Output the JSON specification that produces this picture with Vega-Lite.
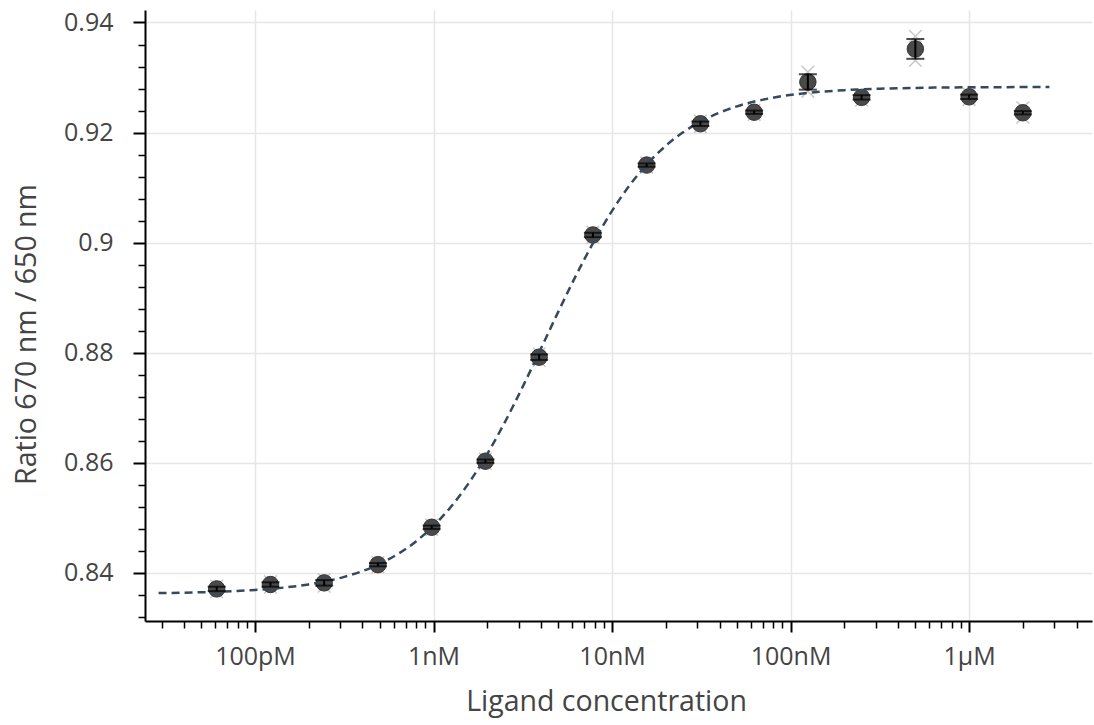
{
  "$schema": "https://vega.github.io/schema/vega-lite/v6.json",
  "width": 947,
  "height": 611,
  "autosize": {"type": "none"},
  "padding": {"left": 145, "top": 10, "right": 2, "bottom": 104},
  "background": "white",
  "config": {
    "view": {"stroke": null},
    "font": "Open Sans",
    "axis": {"labelFont": "Open Sans", "titleFont": "Open Sans", "labelColor": "#444444", "titleColor": "#444444", "titleFontWeight": "normal"}
  },
  "datasets": {
    "points": [
      {"conc": 6.104e-11, "ratio": 0.8371, "lo": 0.8367, "hi": 0.8375},
      {"conc": 1.221e-10, "ratio": 0.8379, "lo": 0.8375, "hi": 0.8383},
      {"conc": 2.441e-10, "ratio": 0.8382, "lo": 0.8377, "hi": 0.8387},
      {"conc": 4.883e-10, "ratio": 0.8415, "lo": 0.8412, "hi": 0.8418},
      {"conc": 9.766e-10, "ratio": 0.8483, "lo": 0.8480, "hi": 0.8486},
      {"conc": 1.953e-9, "ratio": 0.8603, "lo": 0.8600, "hi": 0.8606},
      {"conc": 3.906e-9, "ratio": 0.8792, "lo": 0.8787, "hi": 0.8797},
      {"conc": 7.813e-9, "ratio": 0.9014, "lo": 0.9010, "hi": 0.9018},
      {"conc": 1.5625e-8, "ratio": 0.9141, "lo": 0.9138, "hi": 0.9144},
      {"conc": 3.125e-8, "ratio": 0.9216, "lo": 0.9212, "hi": 0.9220},
      {"conc": 6.25e-8, "ratio": 0.9237, "lo": 0.9234, "hi": 0.9240},
      {"conc": 1.25e-7, "ratio": 0.9292, "lo": 0.9278, "hi": 0.9306},
      {"conc": 2.5e-7, "ratio": 0.9264, "lo": 0.9260, "hi": 0.9268},
      {"conc": 5e-7, "ratio": 0.9352, "lo": 0.9334, "hi": 0.9370},
      {"conc": 1e-6, "ratio": 0.9265, "lo": 0.9261, "hi": 0.9269},
      {"conc": 2e-6, "ratio": 0.9236, "lo": 0.9233, "hi": 0.9239}
    ],
    "reps": [
      {"conc": 6.104e-11, "ratio": 0.8366},
      {"conc": 6.104e-11, "ratio": 0.8376},
      {"conc": 1.221e-10, "ratio": 0.8374},
      {"conc": 1.221e-10, "ratio": 0.8384},
      {"conc": 2.441e-10, "ratio": 0.8376},
      {"conc": 2.441e-10, "ratio": 0.8388},
      {"conc": 4.883e-10, "ratio": 0.8411},
      {"conc": 4.883e-10, "ratio": 0.8419},
      {"conc": 9.766e-10, "ratio": 0.8479},
      {"conc": 9.766e-10, "ratio": 0.8487},
      {"conc": 1.953e-9, "ratio": 0.8599},
      {"conc": 1.953e-9, "ratio": 0.8607},
      {"conc": 3.906e-9, "ratio": 0.8786},
      {"conc": 3.906e-9, "ratio": 0.8798},
      {"conc": 7.813e-9, "ratio": 0.9009},
      {"conc": 7.813e-9, "ratio": 0.9019},
      {"conc": 1.5625e-8, "ratio": 0.9137},
      {"conc": 1.5625e-8, "ratio": 0.9145},
      {"conc": 3.125e-8, "ratio": 0.9211},
      {"conc": 3.125e-8, "ratio": 0.9221},
      {"conc": 6.25e-8, "ratio": 0.9233},
      {"conc": 6.25e-8, "ratio": 0.9241},
      {"conc": 1.25e-7, "ratio": 0.9275},
      {"conc": 1.25e-7, "ratio": 0.9310},
      {"conc": 2.5e-7, "ratio": 0.9259},
      {"conc": 2.5e-7, "ratio": 0.9269},
      {"conc": 5e-7, "ratio": 0.9331},
      {"conc": 5e-7, "ratio": 0.9375},
      {"conc": 1e-6, "ratio": 0.9260},
      {"conc": 1e-6, "ratio": 0.9270},
      {"conc": 2e-6, "ratio": 0.9228},
      {"conc": 2e-6, "ratio": 0.9245}
    ],
    "fit": [
      {"conc": 2.884e-11, "ratio": 0.83634},
      {"conc": 3.162e-11, "ratio": 0.83636},
      {"conc": 5.012e-11, "ratio": 0.83649},
      {"conc": 7.943e-11, "ratio": 0.83673},
      {"conc": 1.259e-10, "ratio": 0.83715},
      {"conc": 1.995e-10, "ratio": 0.83792},
      {"conc": 3.162e-10, "ratio": 0.83929},
      {"conc": 5.012e-10, "ratio": 0.84166},
      {"conc": 7.943e-10, "ratio": 0.84568},
      {"conc": 1e-9, "ratio": 0.84855},
      {"conc": 1.259e-9, "ratio": 0.85211},
      {"conc": 1.585e-9, "ratio": 0.85645},
      {"conc": 1.995e-9, "ratio": 0.86156},
      {"conc": 2.512e-9, "ratio": 0.86741},
      {"conc": 3.162e-9, "ratio": 0.87385},
      {"conc": 3.981e-9, "ratio": 0.88065},
      {"conc": 5.012e-9, "ratio": 0.88752},
      {"conc": 6.31e-9, "ratio": 0.89416},
      {"conc": 7.943e-9, "ratio": 0.9003},
      {"conc": 1e-8, "ratio": 0.90578},
      {"conc": 1.259e-8, "ratio": 0.91048},
      {"conc": 1.585e-8, "ratio": 0.91439},
      {"conc": 1.995e-8, "ratio": 0.91757},
      {"conc": 2.512e-8, "ratio": 0.92009},
      {"conc": 3.162e-8, "ratio": 0.92207},
      {"conc": 5.012e-8, "ratio": 0.92477},
      {"conc": 7.943e-8, "ratio": 0.92633},
      {"conc": 1.259e-7, "ratio": 0.92721},
      {"conc": 1.995e-7, "ratio": 0.9277},
      {"conc": 3.162e-7, "ratio": 0.92797},
      {"conc": 5.012e-7, "ratio": 0.92812},
      {"conc": 7.943e-7, "ratio": 0.9282},
      {"conc": 1.259e-6, "ratio": 0.92824},
      {"conc": 1.995e-6, "ratio": 0.92827},
      {"conc": 2.818e-6, "ratio": 0.92828}
    ]
  },
  "layer": [
    {
      "data": {"name": "reps"},
      "mark": {"type": "point", "shape": "M-1,-1L1,1M-1,1L1,-1", "filled": false, "stroke": "#c8c8c8", "strokeWidth": 1.5, "size": 160, "opacity": 1},
      "encoding": {
        "x": {
          "field": "conc", "type": "quantitative",
          "scale": {"type": "log", "domain": [2.421e-11, 4.88e-6], "nice": false},
          "axis": {
            "orient": "bottom",
            "values": [3e-11, 4e-11, 5e-11, 6e-11, 7e-11, 8e-11, 9e-11, 2e-10, 3e-10, 4e-10, 5e-10, 6e-10, 7e-10, 8e-10, 9e-10, 2e-9, 3e-9, 4e-9, 5e-9, 6e-9, 7e-9, 8e-9, 9e-9, 2e-8, 3e-8, 4e-8, 5e-8, 6e-8, 7e-8, 8e-8, 9e-8, 2e-7, 3e-7, 4e-7, 5e-7, 6e-7, 7e-7, 8e-7, 9e-7, 2e-6, 3e-6, 4e-6],
            "labels": false, "grid": false, "domain": false,
            "ticks": true, "tickSize": 7, "tickWidth": 1.5, "tickColor": "black",
            "title": null
          }
        },
        "y": {
          "field": "ratio", "type": "quantitative",
          "scale": {"domain": [0.83127, 0.94227], "nice": false, "zero": false},
          "axis": {
            "orient": "left",
            "values": [0.832, 0.836, 0.844, 0.848, 0.852, 0.856, 0.864, 0.868, 0.872, 0.876, 0.884, 0.888, 0.892, 0.896, 0.904, 0.908, 0.912, 0.916, 0.924, 0.928, 0.932, 0.936],
            "labels": false, "grid": false, "domain": false,
            "ticks": true, "tickSize": 7, "tickWidth": 1.5, "tickColor": "black",
            "title": null
          }
        }
      }
    },
    {
      "data": {"name": "points"},
      "mark": {"type": "circle", "size": 270, "fill": "#414141", "stroke": "#2a2a2a", "strokeWidth": 1, "opacity": 0.95},
      "encoding": {
        "x": {
          "field": "conc", "type": "quantitative",
          "scale": {"type": "log", "domain": [2.421e-11, 4.88e-6], "nice": false},
          "axis": {
            "orient": "bottom",
            "values": [1e-10, 1e-9, 1e-8, 1e-7, 1e-6],
            "labelExpr": "datum.value < 5e-10 ? '100pM' : datum.value < 5e-9 ? '1nM' : datum.value < 5e-8 ? '10nM' : datum.value < 5e-7 ? '100nM' : '1µM'",
            "grid": true, "gridColor": "#e6e6e6", "gridWidth": 1.5,
            "domain": true, "domainColor": "black", "domainWidth": 2,
            "ticks": true, "tickColor": "black", "tickSize": 11, "tickWidth": 2,
            "labelFontSize": 25, "labelPadding": 12, "labelFlush": false, "labelOverlap": false,
            "title": "Ligand concentration", "titleFontSize": 28.5, "titlePadding": 18, "titleX": 461
          }
        },
        "y": {
          "field": "ratio", "type": "quantitative",
          "scale": {"domain": [0.83127, 0.94227], "nice": false, "zero": false},
          "axis": {
            "orient": "left",
            "values": [0.84, 0.86, 0.88, 0.9, 0.92, 0.94],
            "format": ".2~f",
            "grid": true, "gridColor": "#e6e6e6", "gridWidth": 1.5,
            "domain": true, "domainColor": "black", "domainWidth": 2,
            "ticks": true, "tickColor": "black", "tickSize": 12, "tickWidth": 2,
            "labelFontSize": 25, "labelPadding": 20, "labelFlush": false, "labelOverlap": false,
            "title": "Ratio 670 nm / 650 nm", "titleFontSize": 28.5, "titlePadding": 22, "titleY": 324
          }
        }
      }
    },
    {
      "data": {"name": "fit"},
      "mark": {"type": "line", "color": "#34495e", "strokeWidth": 2.5, "strokeDash": [8, 5], "interpolate": "monotone"},
      "encoding": {
        "x": {"field": "conc", "type": "quantitative", "axis": null},
        "y": {"field": "ratio", "type": "quantitative", "axis": null}
      }
    },
    {
      "data": {"name": "points"},
      "mark": {"type": "errorbar", "color": "black", "ticks": {"size": 18, "thickness": 2, "color": "black"}, "rule": {"strokeWidth": 2, "color": "black"}},
      "encoding": {
        "x": {"field": "conc", "type": "quantitative", "axis": null},
        "y": {"field": "lo", "type": "quantitative", "axis": null},
        "y2": {"field": "hi"}
      }
    }
  ],
  "resolve": {"axis": {"x": "independent", "y": "independent"}}
}
